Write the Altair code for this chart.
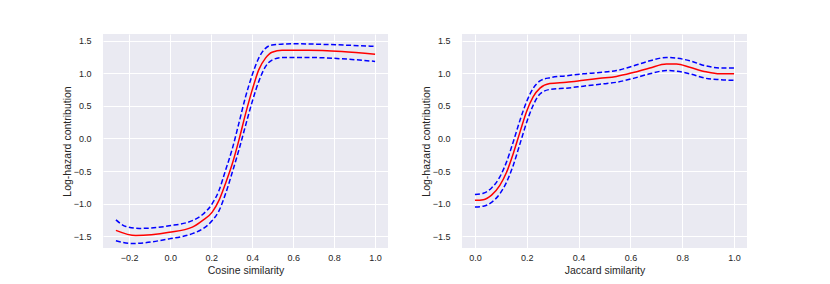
import altair as alt
import pandas as pd

# ---- Cosine similarity panel ----
cos_x = [-0.265, -0.168, -0.005, 0.108, 0.157, 0.205, 0.238, 0.27, 0.303, 0.335,
         0.368, 0.40, 0.432, 0.465, 0.497, 0.546, 0.676, 0.838, 1.0]
cos_est = [-1.41, -1.49, -1.44, -1.36, -1.26, -1.13, -0.95, -0.69, -0.39, -0.03,
           0.38, 0.74, 1.05, 1.23, 1.32, 1.35, 1.35, 1.33, 1.29]
cos_hi_x = [-0.265, -0.216, -0.151, -0.005, 0.108, 0.157, 0.205, 0.238, 0.27, 0.303,
            0.335, 0.368, 0.40, 0.432, 0.465, 0.497, 0.595, 0.757, 1.0]
cos_hi = [-1.25, -1.35, -1.38, -1.34, -1.26, -1.17, -1.00, -0.80, -0.49, -0.16,
          0.23, 0.64, 0.97, 1.23, 1.38, 1.43, 1.45, 1.44, 1.41]
cos_lo_x = [-0.265, -0.184, -0.005, 0.108, 0.157, 0.205, 0.238, 0.27, 0.303, 0.335,
            0.368, 0.40, 0.432, 0.465, 0.497, 0.546, 0.676, 0.838, 1.0]
cos_lo = [-1.57, -1.61, -1.54, -1.46, -1.39, -1.26, -1.11, -0.85, -0.52, -0.18,
          0.20, 0.56, 0.87, 1.10, 1.20, 1.24, 1.24, 1.22, 1.18]

# ---- Jaccard similarity panel ----
jac_x = [0.0, 0.032, 0.064, 0.096, 0.122, 0.148, 0.174, 0.199, 0.225, 0.251, 0.289,
         0.353, 0.418, 0.482, 0.546, 0.611, 0.675, 0.739, 0.778, 0.829, 0.892, 0.945, 1.0]
jac_est = [-0.95, -0.94, -0.87, -0.72, -0.52, -0.23, 0.10, 0.41, 0.64, 0.77, 0.84,
           0.86, 0.89, 0.92, 0.95, 1.01, 1.08, 1.14, 1.14, 1.09, 1.02, 0.99, 0.99]
jac_hi = [-0.86, -0.84, -0.76, -0.59, -0.36, -0.05, 0.28, 0.56, 0.77, 0.88, 0.93,
          0.96, 0.99, 1.01, 1.04, 1.11, 1.19, 1.24, 1.23, 1.19, 1.11, 1.08, 1.08]
jac_lo = [-1.05, -1.04, -0.98, -0.85, -0.67, -0.41, -0.08, 0.24, 0.51, 0.68, 0.75,
          0.77, 0.80, 0.83, 0.86, 0.92, 0.99, 1.04, 1.03, 0.99, 0.92, 0.90, 0.89]

y_ticks = [-1.5, -1.0, -0.5, 0.0, 0.5, 1.0, 1.5]
y_domain = [-1.68, 1.60]
FONT = "Liberation Sans"


def make_df(xe, ye, xh, yh, xl, yl):
    rows = []
    for x, y in zip(xe, ye):
        rows.append({"x": x, "y": y, "series": "est"})
    for x, y in zip(xh, yh):
        rows.append({"x": x, "y": y, "series": "upper"})
    for x, y in zip(xl, yl):
        rows.append({"x": x, "y": y, "series": "lower"})
    return pd.DataFrame(rows)


def panel(df, xtitle, xdomain, xticks):
    x = alt.X("x:Q", scale=alt.Scale(domain=xdomain, nice=False, zero=False),
              axis=alt.Axis(values=xticks, format=".1f", title=xtitle))
    y = alt.Y("y:Q", scale=alt.Scale(domain=y_domain, nice=False, zero=False),
              axis=alt.Axis(values=y_ticks, format=".1f", title="Log-hazard contribution"))
    base = alt.Chart(df).encode(x=x, y=y, order="x:Q")
    est = base.transform_filter(alt.datum.series == "est").mark_line(
        color="red", strokeWidth=1.5, interpolate="monotone")
    bounds = base.transform_filter(alt.datum.series != "est").mark_line(
        color="blue", strokeWidth=1.5, strokeDash=[5, 2.5], interpolate="monotone"
    ).encode(detail="series:N")
    return alt.layer(bounds, est).properties(width=285, height=214)


left = panel(make_df(cos_x, cos_est, cos_hi_x, cos_hi, cos_lo_x, cos_lo),
             "Cosine similarity", [-0.328, 1.063], [-0.2, 0.0, 0.2, 0.4, 0.6, 0.8, 1.0])
right = panel(make_df(jac_x, jac_est, jac_x, jac_hi, jac_x, jac_lo),
              "Jaccard similarity", [-0.05, 1.05], [0.0, 0.2, 0.4, 0.6, 0.8, 1.0])

chart = alt.hconcat(left, right, spacing=33).properties(
    padding={"left": 54, "top": 26, "right": 5, "bottom": 5},
    background="white",
).configure_view(
    fill="#EAEAF2", stroke=None
).configure_axis(
    domain=False, ticks=False, grid=True, gridColor="white", gridWidth=1,
    labelFont=FONT, titleFont=FONT, labelFontSize=9, titleFontSize=10.5,
    labelColor="#262626", titleColor="#262626", titleFontWeight="normal",
).configure_axisX(
    labelPadding=5, titlePadding=3,
).configure_axisY(
    labelPadding=12, titlePadding=1,
)

chart.save("out.html", embed_options={"renderer": "svg", "actions": False})
